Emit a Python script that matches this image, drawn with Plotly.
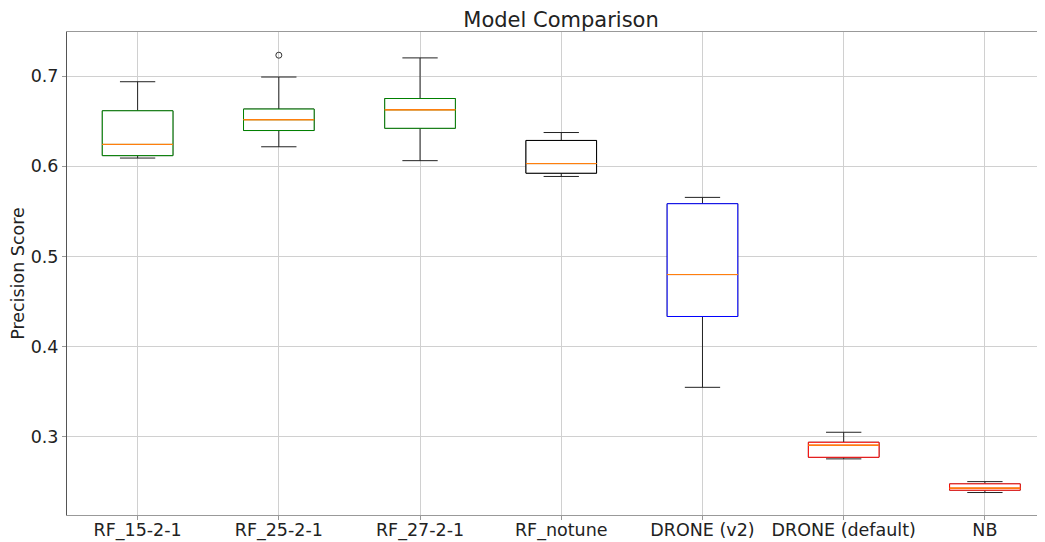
import plotly.graph_objects as go

categories = ["RF_15-2-1", "RF_25-2-1", "RF_27-2-1", "RF_notune", "DRONE (v2)", "DRONE (default)", "NB"]
lower_whisker = [0.6091, 0.6216, 0.6062, 0.5887, 0.3550, 0.2757, 0.2384]
q1_values = [0.6118, 0.6396, 0.6421, 0.5923, 0.4335, 0.2775, 0.2410]
medians = [0.6242, 0.6516, 0.6626, 0.6030, 0.4800, 0.2908, 0.2432]
q3_values = [0.6615, 0.6634, 0.6751, 0.6286, 0.5585, 0.2941, 0.2480]
upper_whisker = [0.6937, 0.6989, 0.7201, 0.6374, 0.5655, 0.3052, 0.2505]
box_colors = ["green", "green", "green", "black", "blue", "red", "red"]
outlier_cats = ["RF_25-2-1"]
outlier_vals = [0.7231]

FONT = "DejaVu Sans"
W, H = 1037, 534
fig = go.Figure()

for i, cat in enumerate(categories):
    # whiskers + caps
    fig.add_trace(go.Box(
        x=[cat], q1=[q1_values[i]], median=[medians[i]], q3=[q3_values[i]],
        lowerfence=[lower_whisker[i]], upperfence=[upper_whisker[i]],
        line=dict(color="#222222", width=1), fillcolor="rgba(0,0,0,0)",
        width=0.5, whiskerwidth=0.5, boxpoints=False, showlegend=False, hoverinfo="skip"))
    # coloured box
    fig.add_trace(go.Box(
        x=[cat], q1=[q1_values[i]], median=[medians[i]], q3=[q3_values[i]],
        lowerfence=[q1_values[i]], upperfence=[q3_values[i]],
        line=dict(color=box_colors[i], width=1), fillcolor="rgba(255,255,255,1)",
        width=0.5, whiskerwidth=0, boxpoints=False, showlegend=False, hoverinfo="skip"))
    # median line
    fig.add_trace(go.Box(
        x=[cat], q1=[medians[i]], median=[medians[i]], q3=[medians[i]],
        lowerfence=[medians[i]], upperfence=[medians[i]],
        line=dict(color="#ff7f0e", width=1), fillcolor="rgba(0,0,0,0)",
        width=0.5, whiskerwidth=0, boxpoints=False, showlegend=False, hoverinfo="skip"))

fig.add_trace(go.Scatter(
    x=outlier_cats, y=outlier_vals, mode="markers",
    marker=dict(symbol="circle-open", size=6, color="#333333", line=dict(width=1)),
    showlegend=False, hoverinfo="skip"))

fig.update_layout(
    width=W, height=H,
    margin=dict(l=59, r=0, t=24, b=27, autoexpand=False),
    paper_bgcolor="white", plot_bgcolor="white",
    boxmode="overlay",
    font=dict(family=FONT, size=17.5, color="#222222"),
    title=dict(text="Model Comparison", x=553/W, xref="container", xanchor="center",
               y=1 - 12/H, yref="container", yanchor="middle",
               font=dict(family=FONT, size=21, color="#222222")),
)
fig.update_xaxes(
    type="category", categoryorder="array", categoryarray=categories,
    range=[-0.5, 6.4255], automargin=False,
    showgrid=True, gridcolor="#d0d0d0", gridwidth=1,
    showline=True, linecolor="#999999", linewidth=1, mirror=True,
    ticks="outside", ticklen=4, tickcolor="#999999",
    ticklabelstandoff=-5,
    tickfont=dict(family=FONT, size=17.5, color="#222222"),
    zeroline=False,
)
fig.update_yaxes(
    range=[0.2135, 0.7488], automargin=False,
    tickvals=[0.3, 0.4, 0.5, 0.6, 0.7], ticktext=["0.3", "0.4", "0.5", "0.6", "0.7"],
    showgrid=True, gridcolor="#d0d0d0", gridwidth=1,
    showline=True, linecolor="#555555", linewidth=1,
    ticks="outside", ticklen=4, tickcolor="#999999",
    tickfont=dict(family=FONT, size=17.5, color="#222222"),
    title=dict(text="Precision Score", font=dict(family=FONT, size=17.5, color="#222222"), standoff=10),
    zeroline=False,
)

fig.write_html("out.html")
